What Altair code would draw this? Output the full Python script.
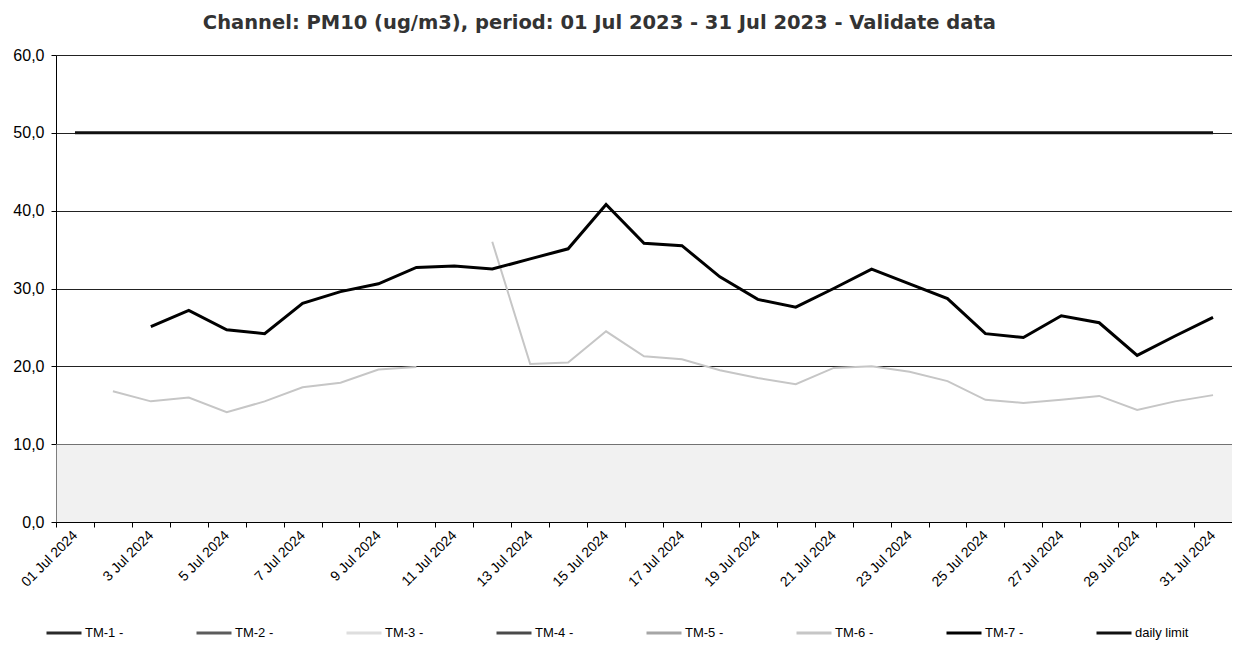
import json
import altair as alt
import pandas as pd

# ---------------- data ----------------
days = list(range(1, 32))

tm7 = [None, None, 25.1, 27.2, 24.7, 24.2, 28.1, 29.6, 30.6, 32.7,
       32.9, 32.5, 33.8, 35.1, 40.8, 35.8, 35.5, 31.5, 28.6, 27.6,
       30.0, 32.5, 30.6, 28.7, 24.2, 23.7, 26.5, 25.6, 21.4, 23.9,
       26.3]

tm6 = [None, 16.8, 15.5, 16.0, 14.1, 15.5, 17.3, 17.9, 19.6, 19.9,
       None, 36.0, 20.3, 20.5, 24.5, 21.3, 20.9, 19.5, 18.5, 17.7,
       19.8, 20.0, 19.3, 18.1, 15.7, 15.3, 15.7, 16.2, 14.4, 15.5,
       16.3]

daily_limit = [50.0] * 31

series_names = ["TM-1 -", "TM-2 -", "TM-3 -", "TM-4 -", "TM-5 -",
                "TM-6 -", "TM-7 -", "daily limit"]
series_colors = ["#2a2a2a", "#5c5c5c", "#dedede", "#4a4a4a", "#a6a6a6",
                 "#c6c6c6", "#000000", "#111111"]

tick_days = [1, 3, 5, 7, 9, 11, 13, 15, 17, 19, 21, 23, 25, 27, 29, 31]
tick_labels = ["01 Jul 2024", "3 Jul 2024", "5 Jul 2024", "7 Jul 2024",
               "9 Jul 2024", "11 Jul 2024", "13 Jul 2024", "15 Jul 2024",
               "17 Jul 2024", "19 Jul 2024", "21 Jul 2024", "23 Jul 2024",
               "25 Jul 2024", "27 Jul 2024", "29 Jul 2024", "31 Jul 2024"]

y_ticks = [0, 10, 20, 30, 40, 50, 60]
band_lo = [0]
band_hi = [10]

title_text = "Channel: PM10 (ug/m3), period: 01 Jul 2023 - 31 Jul 2023 - Validate data"

# ---------------- build tables ----------------
def to_rows(name, values):
    rows, seg = [], 0
    for d, v in zip(days, values):
        if v is None:
            seg += 1
            continue
        rows.append({"day": d, "value": v, "series": name, "seg": f"{name}-{seg}"})
    return rows

thick_df = pd.DataFrame(to_rows("TM-7 -", tm7) + to_rows("daily limit", daily_limit))
thin_df = pd.DataFrame(to_rows("TM-6 -", tm6))
band_df = pd.DataFrame({"lo": band_lo, "hi": band_hi})

W, H = 1176, 467

lab = dict(zip(tick_days, tick_labels))
tick_vals = [k + 0.5 for k in range(32)]
label_arr = json.dumps([lab.get(k + 1, "") for k in range(32)])

x_scale = alt.Scale(domain=[0.5, 31.5], nice=False, zero=False)
y_scale = alt.Scale(domain=[0, 60], nice=False, zero=True)

x_axis = alt.Axis(
    values=tick_vals, grid=False, title=None, tickSize=5, tickColor="#000",
    domainColor="#000", labelExpr=f"{label_arr}[round(datum.value - 0.5)]",
    labelAngle=315, labelAlign="right", labelBaseline="top",
    labelOffset=14, labelPadding=1, labelFont="Liberation Sans",
    labelFontSize=14, labelColor="#000", labelFlush=False,
    labelOverlap=False, labelBound=False,
)
y_axis = alt.Axis(
    values=y_ticks, grid=True, gridColor="#222", gridWidth=1, title=None,
    tickSize=5, tickColor="#000", domainColor="#000",
    labelExpr="replace(format(datum.value, '.1f'), '.', ',')",
    labelFont="Liberation Sans", labelFontSize=16, labelColor="#000",
    labelPadding=7,
)

color = alt.Color(
    "series:N",
    scale=alt.Scale(domain=series_names, range=series_colors),
    legend=alt.Legend(
        title=None, orient="none", legendX=-11, legendY=559,
        direction="horizontal", columns=8, gridAlign="all",
        symbolType="stroke", symbolSize=1225, symbolStrokeWidth=3,
        labelFont="Liberation Sans", labelFontSize=13, labelColor="#000",
        columnPadding=51, labelOffset=2, labelLimit=120,
    ),
)

band = alt.Chart(band_df).mark_rect(color="#e6e6e6", opacity=0.55).encode(
    x=alt.value(0), x2=alt.value(W),
    y=alt.Y("lo:Q", scale=y_scale, axis=y_axis), y2="hi:Q",
)

thin = alt.Chart(thin_df).mark_line(strokeWidth=2).encode(
    x=alt.X("day:Q", scale=x_scale, axis=x_axis),
    y=alt.Y("value:Q", scale=y_scale, axis=y_axis),
    color=color, detail="seg:N",
)

thick = alt.Chart(thick_df).mark_line(strokeWidth=3).encode(
    x=alt.X("day:Q", scale=x_scale, axis=x_axis),
    y=alt.Y("value:Q", scale=y_scale, axis=y_axis),
    color=color, detail="seg:N",
)

chart = alt.layer(band, thin, thick).properties(
    width=W, height=H,
    title=alt.TitleParams(
        text=title_text, font="DejaVu Sans", fontSize=19.5, fontWeight="bold",
        color="#333", anchor="start", dx=190, offset=14,
    ),
    autosize=alt.AutoSizeParams(type="none"),
    padding={"left": 48, "top": 47, "right": 0, "bottom": 136},
).configure_view(stroke=None).configure(background="white")

chart.save("out.html", embed_options={"renderer": "svg", "actions": False})
